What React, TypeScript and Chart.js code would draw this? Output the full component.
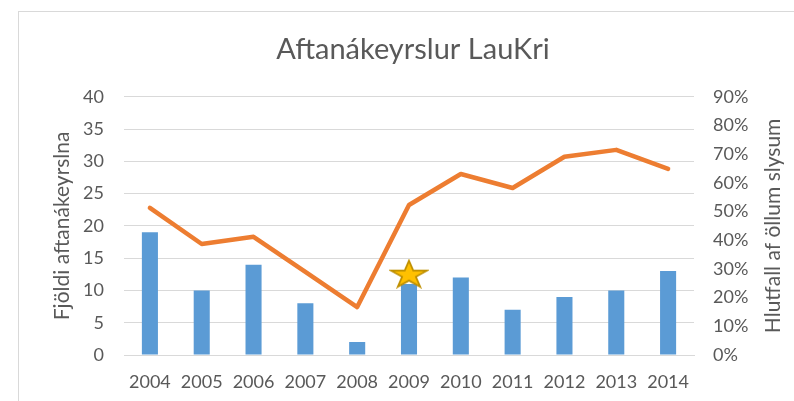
import React, { useEffect, useRef } from "react";
import { Chart, registerables } from "chart.js";

Chart.register(...registerables);

// ---- Data ----
const years = ["2004", "2005", "2006", "2007", "2008", "2009", "2010", "2011", "2012", "2013", "2014"];
const rearEndCollisions = [19, 10, 14, 8, 2, 11, 12, 7, 9, 10, 13];
const shareOfAllAccidents = [51.3, 38.7, 41.2, 29.0, 16.7, 52.3, 63.1, 58.2, 69.1, 71.5, 64.9];
const highlightMarker = [null, null, null, null, null, 12.6, null, null, null, null, null];

const leftMax = 40;
const leftStep = 5;
const rightMax = 90;
const rightStep = 10;

const chartTitle = "Aftanákeyrslur LauKri";
const leftAxisTitle = "Fjöldi aftanákeyrslna";
const rightAxisTitle = "Hlutfall af öllum slysum";

const FONT = "Lato";
const TEXT_COLOR = "#595959";
const GRID_COLOR = "#d9d9d9";

function makeStar(w: number, h: number): HTMLCanvasElement {
  const pad = 2;
  const c = document.createElement("canvas");
  c.width = w + pad * 2;
  c.height = h + pad * 2;
  const ctx = c.getContext("2d")!;
  const pts: [number, number][] = [];
  for (let i = 0; i < 10; i++) {
    const r = i % 2 === 0 ? 1 : 0.382;
    const a = -Math.PI / 2 + (i * Math.PI) / 5;
    pts.push([r * Math.cos(a), r * Math.sin(a)]);
  }
  ctx.beginPath();
  pts.forEach(([x, y], i) => {
    const px = pad + ((x + 0.951) / 1.902) * w;
    const py = pad + ((y + 1) / 1.809) * h;
    if (i === 0) ctx.moveTo(px, py);
    else ctx.lineTo(px, py);
  });
  ctx.closePath();
  ctx.fillStyle = "#FFC000";
  ctx.fill();
  ctx.lineWidth = 1.8;
  ctx.lineJoin = "miter";
  ctx.strokeStyle = "#BF9000";
  ctx.stroke();
  return c;
}

const axisTitlesPlugin = {
  id: "axisTitles",
  afterDraw(chart: any) {
    const { ctx, chartArea } = chart;
    const midY = (chartArea.top + chartArea.bottom) / 2;
    ctx.save();
    ctx.fillStyle = TEXT_COLOR;
    ctx.font = `21px ${FONT}`;
    ctx.textAlign = "center";
    ctx.textBaseline = "middle";
    const draw = (text: string, x: number) => {
      ctx.save();
      ctx.translate(x, midY);
      ctx.rotate(-Math.PI / 2);
      ctx.fillText(text, 0, 0);
      ctx.restore();
    };
    draw(leftAxisTitle, 43);
    draw(rightAxisTitle, 754);
    ctx.restore();
  },
};

export default function App() {
  const canvasRef = useRef<HTMLCanvasElement | null>(null);

  useEffect(() => {
    const canvas = canvasRef.current;
    if (!canvas) return;
    const star = makeStar(36, 26);
    const tickFont = { family: FONT, size: 18 };
    const chart = new Chart(canvas, {
      type: "bar",
      data: {
        labels: years,
        datasets: [
          {
            type: "line",
            label: "marker",
            data: highlightMarker as any,
            yAxisID: "y",
            showLine: false,
            pointStyle: star as any,
            pointRadius: 12,
            pointHoverRadius: 12,
            order: 0,
          } as any,
          {
            type: "line",
            label: rightAxisTitle,
            data: shareOfAllAccidents,
            yAxisID: "y1",
            borderColor: "#ED7D31",
            backgroundColor: "#ED7D31",
            borderWidth: 4.5,
            pointRadius: 0,
            tension: 0,
            borderCapStyle: "round",
            borderJoinStyle: "round",
            order: 1,
          } as any,
          {
            type: "bar",
            label: leftAxisTitle,
            data: rearEndCollisions,
            yAxisID: "y",
            backgroundColor: "#5B9BD5",
            barPercentage: 0.31,
            categoryPercentage: 1,
            order: 2,
          },
        ],
      },
      options: {
        responsive: false,
        animation: false,
        devicePixelRatio: 1,
        layout: { padding: 0 },
        plugins: {
          legend: { display: false },
          tooltip: { enabled: false },
          title: {
            display: true,
            text: chartTitle,
            color: TEXT_COLOR,
            font: { family: FONT, size: 29, weight: "normal" },
            padding: { top: 20, bottom: 30 },
          },
        },
        scales: {
          x: {
            grid: { display: false, drawTicks: false },
            border: { display: true, color: GRID_COLOR, width: 1 },
            ticks: { color: TEXT_COLOR, font: tickFont, padding: 16, maxRotation: 0, autoSkip: false },
            afterFit: (s: any) => {
              s.height = 46;
            },
          },
          y: {
            position: "left",
            min: 0,
            max: leftMax,
            ticks: { stepSize: leftStep, color: TEXT_COLOR, font: tickFont, padding: 20 },
            grid: { color: GRID_COLOR, drawTicks: false, lineWidth: 1 },
            border: { display: false },
            afterFit: (s: any) => {
              s.width = 105;
            },
          },
          y1: {
            position: "right",
            min: 0,
            max: rightMax,
            ticks: {
              stepSize: rightStep,
              color: TEXT_COLOR,
              font: tickFont,
              padding: 19,
              callback: (v: any) => `${v}%`,
            },
            grid: { display: false, drawTicks: false },
            border: { display: false },
            afterFit: (s: any) => {
              s.width = 113;
            },
          },
        },
      },
      plugins: [axisTitlesPlugin],
    });
    return () => chart.destroy();
  }, []);

  return (
    <div
      style={{
        position: "fixed",
        left: 0,
        top: 0,
        width: 794,
        height: 401,
        overflow: "hidden",
        background: "#fff",
      }}
    >
      <div
        style={{
          position: "absolute",
          left: 18,
          top: 11,
          width: 790,
          height: 420,
          border: "1px solid #d9d9d9",
          boxSizing: "border-box",
        }}
      >
        <canvas
          ref={canvasRef}
          width={788}
          height={389}
          style={{ display: "block", width: 788, height: 389 }}
        />
      </div>
    </div>
  );
}
